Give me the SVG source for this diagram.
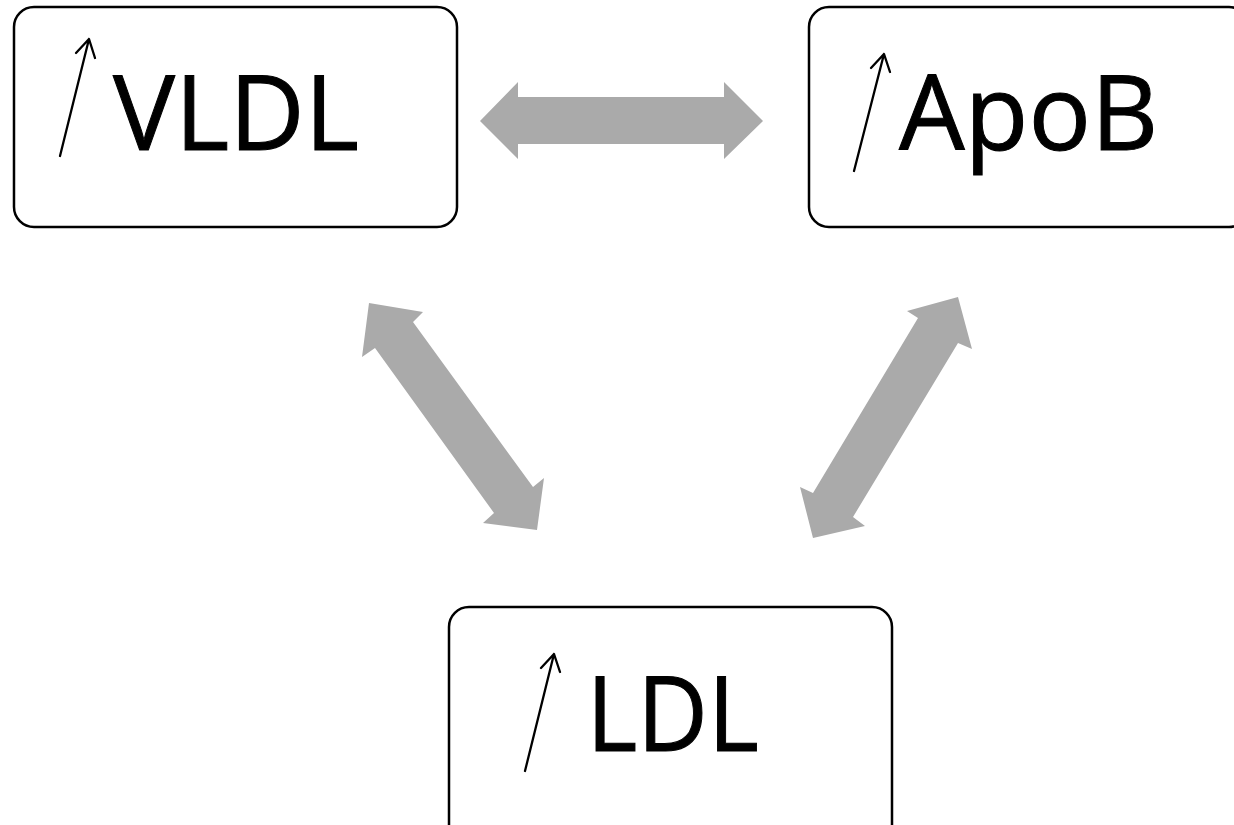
<svg xmlns="http://www.w3.org/2000/svg" width="1234" height="825" viewBox="0 0 1234 825">
  <defs>
    <style>
      .box { fill: #ffffff; stroke: #000000; stroke-width: 2.5; }
      .label { font-family: "Open Sans", "Liberation Sans", sans-serif; font-size: 104px; font-weight: 500; fill: #000000; stroke: #000000; stroke-width: 1; }
      .up { fill: none; stroke: #000000; stroke-width: 2.3; stroke-linecap: round; stroke-linejoin: round; }
      .link { fill: #aaaaaa; stroke: none; }
    </style>
  </defs>
  <rect width="1234" height="825" fill="#ffffff"/>

  <!-- two-way links between the three nodes -->
  <g id="connectors">
    <polygon class="link" points="480,121 518,82 518,97 724,97 724,82 763,121 724,159 724,144 518,144 518,159"/>
    <polygon class="link" points="369,303 423,312 413,322 533,487 544,478 537,530 483,523 494,513 375,348 362,357"/>
    <polygon class="link" points="958,297 972,349 958,343 853,517 865,526 813,538 800,487 813,493 918,318 907,311"/>
  </g>

  <g id="node-vldl">
    <rect class="box" x="14" y="7" width="443" height="220" rx="20"/>
    <path class="up" d="M60,156 L89,39 M76,53 L89,39 L95,58"/>
    <text class="label" x="113" y="150">VLDL</text>
  </g>

  <g id="node-apob">
    <rect class="box" x="809" y="7" width="440" height="220" rx="20"/>
    <path class="up" d="M854,171 L884,54 M871,68 L884,54 L890,72"/>
    <text class="label" x="899" y="150">ApoB</text>
  </g>

  <g id="node-ldl">
    <rect class="box" x="449" y="607" width="443" height="240" rx="20"/>
    <path class="up" d="M525,771 L554,654 M541,668 L554,654 L560,672"/>
    <text class="label" transform="translate(586.5,751) scale(0.937,1)" x="0" y="0">LDL</text>
  </g>
</svg>
